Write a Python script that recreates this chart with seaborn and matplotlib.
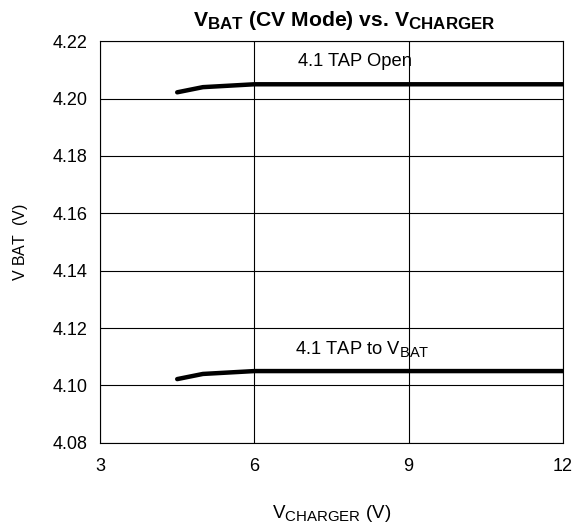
import matplotlib
matplotlib.use("Agg")
import matplotlib.pyplot as plt
import matplotlib._mathtext as _mt
import seaborn as sns
import pandas as pd

v_charger = [4.5, 5.0, 6.0, 9.0, 12.0]
vbat_open = [4.2022, 4.204, 4.205, 4.205, 4.205]
vbat_tap = [4.1022, 4.104, 4.105, 4.105, 4.105]
x_ticks = [3, 6, 9, 12]
y_ticks = [4.08, 4.10, 4.12, 4.14, 4.16, 4.18, 4.20, 4.22]

# larger subscripts, like the reference
_mt.SHRINK_FACTOR = 0.8

sns.set_theme(style="white")
plt.rcParams['font.family'] = ['Liberation Sans', 'DejaVu Sans']
plt.rcParams['mathtext.fontset'] = 'custom'
plt.rcParams['mathtext.rm'] = 'Liberation Sans'
plt.rcParams['mathtext.bf'] = 'Liberation Sans:bold'
plt.rcParams['text.color'] = 'black'
plt.rcParams['axes.labelcolor'] = 'black'

df = pd.concat([
    pd.DataFrame({"x": v_charger, "y": vbat_open, "s": "open"}),
    pd.DataFrame({"x": v_charger, "y": vbat_tap, "s": "tap"}),
])

fig = plt.figure(figsize=(5.75, 5.29), dpi=100)
ax = fig.add_axes([0.174, 0.163, 0.805, 0.759])
sns.lineplot(data=df, x="x", y="y", units="s", estimator=None, color="black",
             linewidth=3.2, ax=ax, legend=False)
ax.set_xlim(3, 12)
ax.set_ylim(4.08, 4.22)
ax.set_xticks(x_ticks)
ax.set_yticks(y_ticks)
ax.set_yticklabels([f"{v:.2f}" for v in y_ticks])
ax.grid(True, color="black", linewidth=0.8)
for s in ax.spines.values():
    s.set_color("black")
    s.set_linewidth(0.8)
ax.tick_params(axis="both", length=0, labelsize=13, colors="black")
ax.tick_params(axis="y", pad=9)
ax.tick_params(axis="x", pad=11)
ax.set_xlabel(r"V$_{\mathregular{CHARGER}}$ (V)", fontsize=13.5, labelpad=20, color="black")
ax.set_ylabel(r"V $\mathregular{BAT}$  (V)", fontsize=11.5, labelpad=16, color="black")
ax.set_title(r"V$_{\mathbf{BAT}}$ (CV Mode) vs. V$_{\mathbf{CHARGER}}$",
             fontsize=15.2, fontweight="bold", pad=11, color="black", x=0.527)
ax.text(6.85, 4.2128, "4.1 TAP Open", fontsize=13.2, va="center", color="black")
ax.text(6.8, 4.1128, r"4.1 TAP to V$_{\mathregular{BAT}}$", fontsize=13.2, va="center", color="black")
fig.savefig("out.png", dpi=100)
